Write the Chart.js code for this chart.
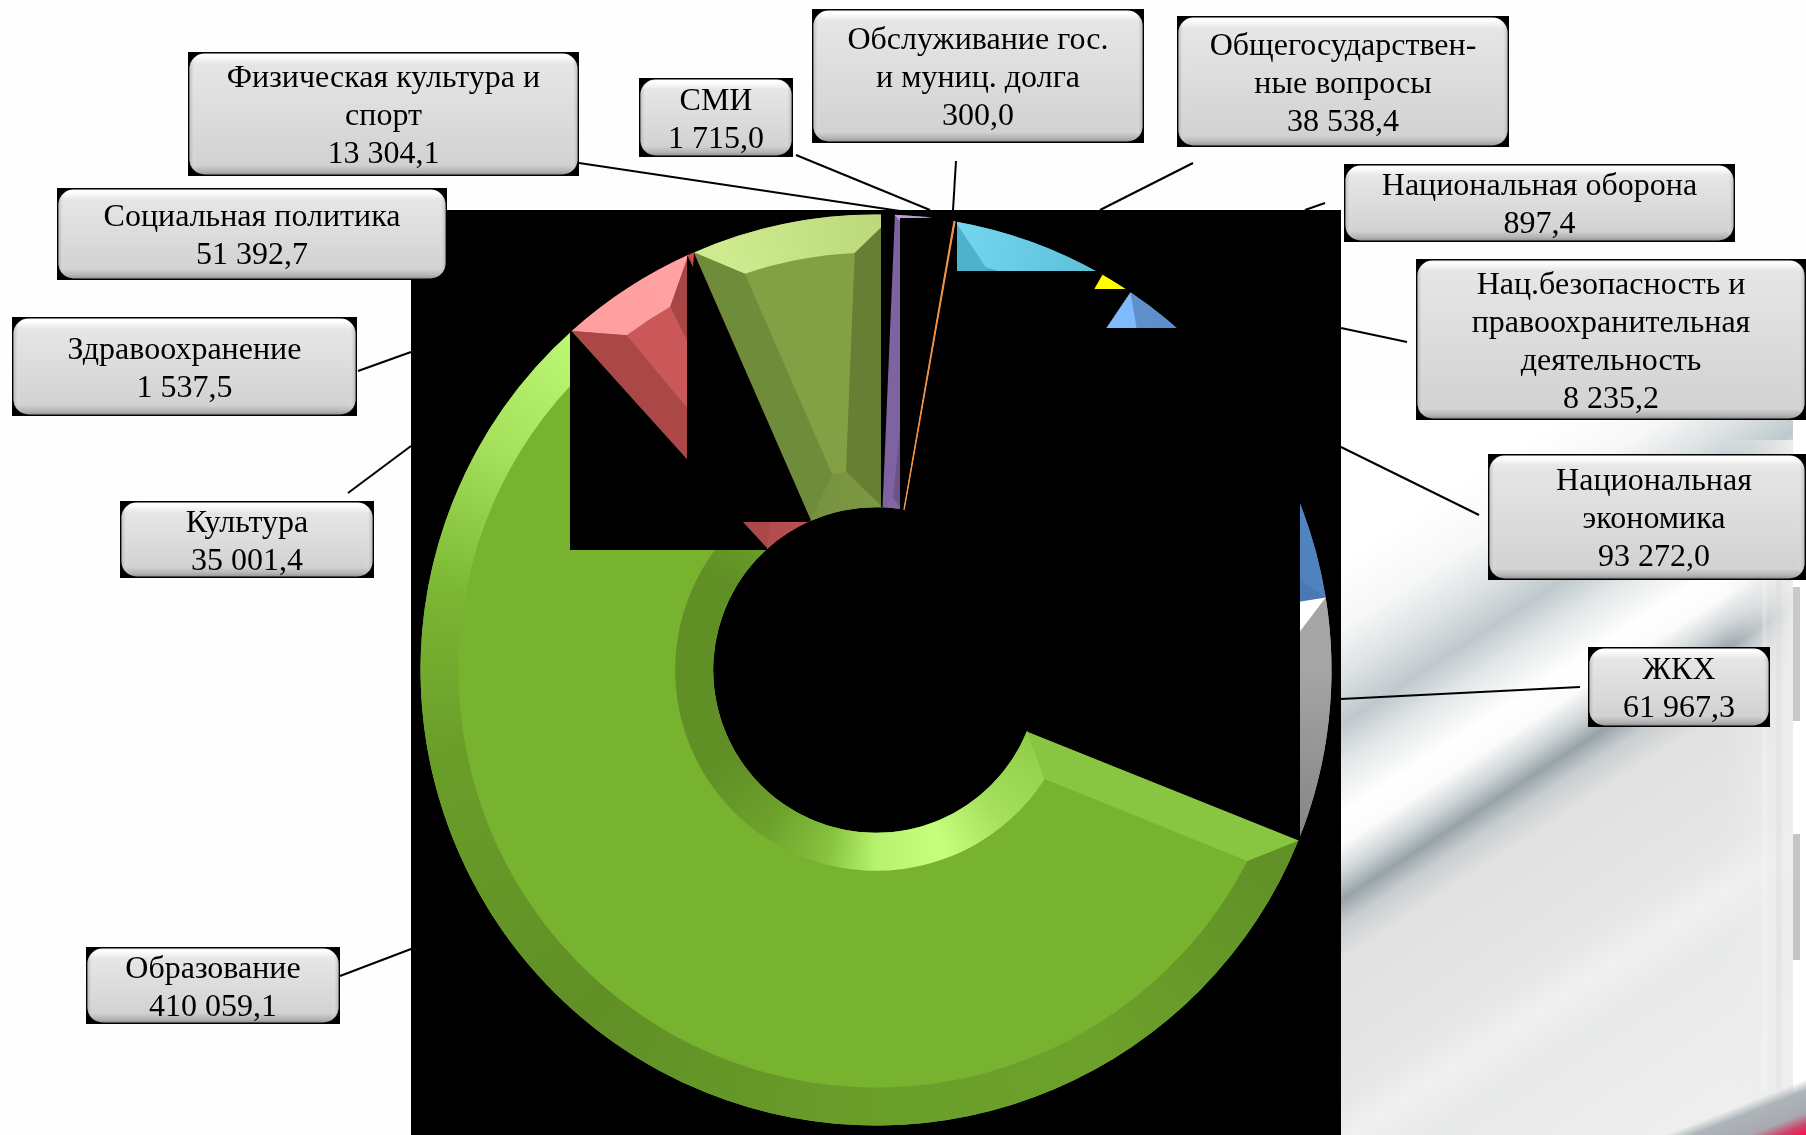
<!DOCTYPE html>
<html>
<head>
<meta charset="utf-8">
<title>Расходы бюджета</title>
<script src="https://cdn.jsdelivr.net/npm/chart.js@4"></script>
<style>
  html, body { margin: 0; padding: 0; background: #fff; overflow: hidden; }
  #myChart { display: block; }
</style>
</head>
<body>
<canvas id="myChart" width="1806" height="1135"></canvas>
<script>
// data, clockwise from the orange/cyan border
const categories = [
  "Общегосударствен-\nные вопросы",
  "Национальная оборона",
  "Нац.безопасность и\nправоохранительная\nдеятельность",
  "Национальная\nэкономика",
  "ЖКХ",
  "Образование",
  "Культура",
  "Здравоохранение",
  "Социальная политика",
  "Физическая культура и\nспорт",
  "СМИ",
  "Обслуживание гос.\nи муниц. долга"
];
const values = [38538.4, 897.4, 8235.2, 93272.0, 61967.3, 410059.1, 35001.4, 1537.5, 51392.7, 13304.1, 1715.0, 300.0];

const faceColors = ["#4bacc6", "#e8402a", "#ffff00", "#4f81bd", "#a5a5a5", "#78b330", "#ca5858", "#e0474c", "#83a045", "#8a6aaa", "#000000", "#f79646"];
const startSideColors = ["#4fb1cc", null, null, "#80bbff", "#ffffff", "#88c540", "#ab4747", null, "#6f8c3a", "#7f62a0", null, null];
const endSideColors = ["#4fa5be", null, null, "#4a78b0", "#9a9a9a", "#5f9129", "#a84646", null, "#667f35", "#6b5388", null, null];
const sliceBorders = [0, 0, 0, 0, 0, 0, 0, 0, 0, 0, 0, 1];

// lighting of the rims: [angle from top, factor]
const outerLight = [[0, 1.38], [10, 1.28], [30, 1.12], [60, 1.02], [90, 1], [112, 0.8], [150, 0.9], [180, 0.88], [220, 0.8], [260, 0.88], [280, 1.02], [300, 1.3], [320, 1.47], [340, 1.5], [360, 1.38]];
const innerLight = [[0, 0.95], [90, 1.05], [112, 1.16], [140, 1.3], [160, 1.52], [180, 1.42], [195, 1.1], [215, 0.9], [240, 0.8], [300, 0.8], [320, 0.88], [360, 0.95]];

// label boxes [x, y, w, h], same order as categories
const boxes = [
  [1177, 16, 332, 131], [1344, 164, 391, 78], [1416, 259, 390, 161], [1488, 454, 318, 126],
  [1588, 647, 182, 80], [86, 947, 254, 77], [120, 501, 254, 77], [12, 317, 345, 99],
  [57, 188, 390, 92], [188, 52, 391, 124], [639, 78, 154, 79], [812, 9, 332, 134]
];
const textShift = [0, 0, 0, 7, 0, 0, 0, 0, 0, 0, 0, 0];
const leaders = [
  [1193, 163, 1100, 210], [1325, 203, 1305, 210], [1407, 342, 1341, 328], [1479, 515, 1341, 447],
  [1580, 687, 1341, 699], [340, 976, 411, 949], [348, 493, 411, 446], [358, 371, 411, 352],
  [579, 163, 900, 211], [796, 155, 930, 210], [956, 161, 953, 210]
];

// black patches lying over the ring
const covers = [
  [[900, 218], [957, 218], [957, 271], [1098, 271], [1102, 275], [1094, 289], [1130, 289], [1130.7, 291.8], [1106.3, 328], [1300, 328], [1300, 841], [1028, 732], [900, 510]],
  [[881, 213], [895, 213], [882.5, 507], [881, 507]],
  [[687, 255], [693, 267], [694, 253], [811, 520.5], [808, 522], [687, 522]],
  [[570, 331], [571.5, 331], [687, 459.2], [687, 522], [743, 522], [767, 548], [767, 550], [570, 550]]
];

function formatValue(v) {
  const parts = v.toFixed(1).split(".");
  return parts[0].replace(/\B(?=(\d{3})+$)/g, " ") + "," + parts[1];
}

// above 1 adds light, below 1 darkens
function shade(hex, f) {
  const out = [1, 3, 5].map((i) => {
    const base = parseInt(hex.substr(i, 2), 16);
    const c = f > 1 ? base + 150 * (f - 1) : base * f;
    return Math.max(0, Math.min(255, Math.round(c)));
  });
  return "rgb(" + out.join(",") + ")";
}

function rimGradient(ctx, x, y, color, light) {
  const g = ctx.createConicGradient(-Math.PI / 2, x, y);
  light.forEach((s) => g.addColorStop(s[0] / 360, shade(color, s[1])));
  return g;
}

function polar(x, y, r, a) {
  return [x + r * Math.cos(a), y + r * Math.sin(a)];
}

function drawBevel(ctx, arc, i) {
  if (!startSideColors[i]) return;
  const p = arc.getProps(["x", "y", "startAngle", "endAngle", "innerRadius", "outerRadius"], true);
  const depth = 38;
  const a0 = p.startAngle, a1 = p.endAngle, R = p.outerRadius, r = p.innerRadius;
  const hs = Math.sin((a1 - a0) / 2);
  const dO = Math.min(depth, R * hs / (1 + hs));
  const dI = hs < 1 ? Math.min(depth, r * hs / (1 - hs)) : depth;
  const ro = R - dO, ri = r + dI;
  const ao = Math.asin(dO / ro), ai = Math.asin(dI / ri);

  // outer rim
  ctx.beginPath();
  ctx.arc(p.x, p.y, R, a0, a1);
  ctx.arc(p.x, p.y, ro, a1 - ao, a0 + ao, true);
  ctx.closePath();
  ctx.fillStyle = rimGradient(ctx, p.x, p.y, faceColors[i], outerLight);
  ctx.fill();
  // inner rim
  ctx.beginPath();
  ctx.arc(p.x, p.y, r, a0, a1);
  ctx.arc(p.x, p.y, ri, a1 - ai, a0 + ai, true);
  ctx.closePath();
  ctx.fillStyle = rimGradient(ctx, p.x, p.y, faceColors[i], innerLight);
  ctx.fill();
  // the two cut sides
  [[a0, ao, ai, startSideColors[i]], [a1, -ao, -ai, endSideColors[i]]].forEach((s) => {
    const pts = [polar(p.x, p.y, R, s[0]), polar(p.x, p.y, ro, s[0] + s[1]), polar(p.x, p.y, ri, s[0] + s[2]), polar(p.x, p.y, r, s[0])];
    ctx.beginPath();
    pts.forEach((q) => ctx.lineTo(q[0], q[1]));
    ctx.closePath();
    ctx.fillStyle = s[3];
    ctx.fill();
  });
}

function drawBackground(ctx) {
  ctx.fillStyle = "#fefefe";
  ctx.fillRect(0, 0, 1806, 1135);

  // grey streaks at the lower right
  const slope = 0.65;
  const x0 = 1341, t0 = 560, t1 = 1430;
  const dx = slope, dy = 1, len2 = dx * dx + dy * dy;
  const span = t1 - t0;
  const g = ctx.createLinearGradient(x0, t0, x0 + dx * span / len2, t0 + dy * span / len2);
  const stops = [[560, "#ffffff"], [630, "#f6f7f7"], [680, "#dce1e3"], [725, "#bfc9cd"], [765, "#e3e7e8"], [815, "#ffffff"], [845, "#fbfbfb"], [875, "#ced5d7"], [900, "#97a3a9"], [925, "#c8cdcf"], [960, "#e1e1e1"], [1040, "#e4e4e4"], [1100, "#e6e7e7"], [1140, "#f0f0f0"], [1190, "#e8e9e9"], [1300, "#ededed"], [1430, "#f0f0f0"]];
  stops.forEach((s) => g.addColorStop((s[0] - t0) / span, s[1]));
  ctx.fillStyle = g;
  ctx.fillRect(1341, 400, 465, 735);

  // streaks fade into pale vertical stripes along the right edge
  const fade = ctx.createLinearGradient(1725, 0, 1793, 0);
  fade.addColorStop(0, "rgba(236,236,236,0)");
  fade.addColorStop(1, "rgba(238,238,238,.95)");
  ctx.fillStyle = fade;
  ctx.fillRect(1725, 440, 68, 670);
  const stripes = [[1762, 470, 5, 620, "rgba(255,255,255,.22)"], [1776, 470, 6, 620, "rgba(215,215,215,.3)"],
    [1793, 420, 13, 680, "#ffffff"], [1793, 587, 7, 134, "#c9c9c9"], [1793, 834, 7, 126, "#c4c6c4"]];
  stripes.forEach((s) => {
    ctx.fillStyle = s[4];
    ctx.fillRect(s[0], s[1], s[2], s[3]);
  });

  // red smear in the corner
  const c = ctx.createLinearGradient(1804, 1080, 1823, 1128);
  c.addColorStop(0, "rgba(170,178,182,0)");
  c.addColorStop(0.2, "rgba(170,178,182,.95)");
  c.addColorStop(0.6, "#a8a8b0");
  c.addColorStop(0.82, "#d04068");
  c.addColorStop(1, "#fa1050");
  ctx.fillStyle = c;
  ctx.fillRect(1660, 1060, 146, 75);

  ctx.strokeStyle = "#000";
  ctx.lineWidth = 2;
  leaders.forEach((l) => {
    ctx.beginPath();
    ctx.moveTo(l[0], l[1]);
    ctx.lineTo(l[2], l[3]);
    ctx.stroke();
  });

  ctx.fillStyle = "#000";
  ctx.fillRect(411, 210, 930, 925);
}

function drawBox(ctx, b, text, shift) {
  const x = b[0], y = b[1], w = b[2], h = b[3];
  ctx.fillStyle = "#000";
  ctx.fillRect(x, y, w, h);

  ctx.save();
  ctx.beginPath();
  ctx.roundRect(x + 1.5, y + 1.5, w - 3, h - 3, 15);
  ctx.clip();
  const g = ctx.createLinearGradient(0, y, 0, y + h);
  const e = 10 / h;
  g.addColorStop(0, "#f6f6f6");
  g.addColorStop(e * 0.4, "#ffffff");
  g.addColorStop(e * 1.2, "#e6e6e6");
  g.addColorStop(1 - e * 1.1, "#d2d2d2");
  g.addColorStop(1 - e * 0.45, "#b2b2b2");
  g.addColorStop(1, "#858585");
  ctx.fillStyle = g;
  ctx.fillRect(x, y, w, h);
  // side edges of the button
  const s = ctx.createLinearGradient(x, 0, x + w, 0);
  const f = 8 / w;
  s.addColorStop(0, "rgba(120,120,120,.6)");
  s.addColorStop(f, "rgba(255,255,255,0)");
  s.addColorStop(1 - f, "rgba(255,255,255,0)");
  s.addColorStop(1, "rgba(120,120,120,.6)");
  ctx.fillStyle = s;
  ctx.fillRect(x, y, w, h);
  ctx.restore();

  ctx.fillStyle = "#000";
  ctx.font = "32px 'Liberation Serif'";
  ctx.textAlign = "center";
  ctx.textBaseline = "middle";
  const pitch = 38;
  const top = y + h / 2 + 3 - pitch * (text.length - 1) / 2;
  text.forEach((line, k) => ctx.fillText(line, x + w / 2 + shift, top + k * pitch));
}

const ringPlugin = {
  id: "ringPlugin",
  beforeDraw(chart) {
    drawBackground(chart.ctx);
  },
  afterDatasetsDraw(chart) {
    const ctx = chart.ctx;
    const arcs = chart.getDatasetMeta(0).data;
    ctx.save();
    arcs.forEach((arc, i) => drawBevel(ctx, arc, i));
    ctx.fillStyle = "#000";
    covers.forEach((poly) => {
      ctx.beginPath();
      poly.forEach((q) => ctx.lineTo(q[0], q[1]));
      ctx.closePath();
      ctx.fill();
    });
    // the thin orange slice stays visible over the black patch
    arcs[arcs.length - 1].draw(ctx);
    ctx.restore();
  },
  afterDraw(chart) {
    categories.forEach((name, i) => {
      drawBox(chart.ctx, boxes[i], name.split("\n").concat(formatValue(values[i])), textShift[i]);
    });
  }
};

new Chart(document.getElementById("myChart"), {
  type: "doughnut",
  data: {
    labels: categories,
    datasets: [{
      data: values,
      backgroundColor: faceColors,
      borderColor: faceColors,
      borderWidth: sliceBorders
    }]
  },
  options: {
    responsive: false,
    animation: false,
    rotation: 10,
    cutout: "35.75%",
    layout: { padding: { left: 420, right: 474, top: 214, bottom: 9 } },
    plugins: {
      legend: { display: false },
      tooltip: { enabled: false }
    }
  },
  plugins: [ringPlugin]
});
</script>
</body>
</html>
